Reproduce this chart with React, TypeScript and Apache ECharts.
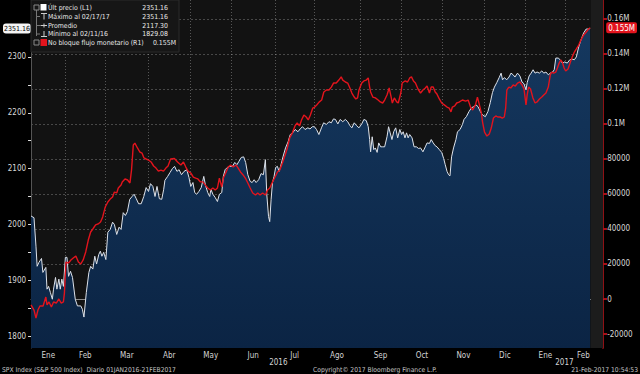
import React, { useEffect, useRef } from 'react';
import * as echarts from 'echarts';

// Trading sessions counted from 04-Jan-2016 (session 0)
const spxSession = [2.0,3.5,4.5,5.1,6.0,7.3,8.0,9.5,10.1,10.9,11.8,12.8,13.4,14.4,15.1,16.1,16.8,17.6,18.4,19.4,20.2,21.0,22.0,23.0,24.4,25.5,27.2,28.0,28.8,30.0,31.3,32.2,33.3,34.3,35.2,36.3,37.1,37.9,38.8,39.9,40.9,42.1,43.3,44.2,45.4,46.6,47.6,48.7,49.8,50.8,52.0,53.2,54.2,55.3,56.5,57.8,59.1,60.3,61.5,62.5,63.7,64.8,65.8,67.0,68.2,69.2,69.8,71.2,72.4,73.6,74.7,
75.9,77.0,78.2,79.5,80.9,82.0,82.9,84.0,84.9,85.9,87.0,88.2,89.5,90.3,91.5,92.5,93.1,94.1,95.3,96.4,97.4,98.6,99.4,100.3,101.4,102.7,104.0,105.2,106.3,107.3,108.5,109.7,110.7,111.8,113.0,114.0,115.0,116.0,117.3,118.5,119.7,120.7,121.4,122.3,122.9,123.6,124.3,125.1,125.9,126.8,127.6,128.4,129.6,130.9,132.2,133.3,134.5,135.8,137.2,138.3,139.5,140.8,142.2,143.3,144.5,145.5,146.6,147.8,
149.1,150.2,151.6,152.9,154.1,155.2,156.2,157.4,158.6,159.9,161.2,162.4,163.5,164.5,165.7,166.9,168.1,169.5,170.6,171.8,172.8,173.5,174.0,174.8,175.6,176.4,177.3,178.1,179.1,180.1,181.1,182.3,183.1,183.9,184.8,185.7,186.7,187.7,188.8,189.7,190.5,191.4,192.2,193.0,193.8,195.0,196.0,197.2,198.3,199.3,200.5,201.7,202.6,203.8,204.7,205.7,206.7,207.6,208.8,210.0,211.0,211.8,212.7,213.5,214.2,215.0,216.0,217.2,218.0,
219.3,220.5,221.3,222.5,223.8,225.1,226.3,227.4,228.4,229.6,230.7,232.1,233.4,234.6,235.7,236.7,237.9,239.1,240.1,240.8,241.8,242.9,244.1,245.1,246.2,247.1,248.4,249.6,250.7,251.7,252.7,253.3,254.3,255.3,256.3,257.3,258.3,259.5,260.7,261.7,262.8,264.0,265.0,266.2,267.0,267.8,269.0,270.0,271.1,272.3,273.6,274.9,276.1,277.2,278.2,279.4,280.5,281.9,283.2,284.4,285.2];

const spxClose = [2015,2012,1961,1925,1932,1939,1914,1923,1884,1889,1878,1866,1884,1905,1884,1902,1884,1902,1889,1941,1941,1907,1916,1905,1866,1854,1854,1848,1834,1878,1914,1925,1920,1943,1929,1946,1952,1943,1950,1937,1986,1991,2004,2000,1982,1995,1991,2021,2016,2023,2045,2050,2054,2046,2037,2037,2050,2066,2059,2073,2068,2050,2068,2046,2045,2063,2079,2086,2093,2100,2104,
2095,2098,2089,2095,2098,2084,2068,2075,2057,2054,2059,2066,2086,2071,2057,2050,2063,2054,2048,2041,2054,2057,2086,2098,2102,2104,2104,2111,2107,2113,2120,2121,2111,2089,2077,2075,2080,2075,2080,2091,2089,2116,2054,2014,2005,2045,2075,2086,2102,2104,2095,2104,2121,2137,2148,2161,2164,2170,2166,2171,2175,2170,2173,2171,2175,2175,2170,2161,
2173,2182,2179,2184,2182,2189,2188,2180,2188,2184,2188,2184,2177,2173,2182,2177,2173,2180,2188,2186,2175,2152,2130,2157,2134,2137,2129,2146,2139,2139,2139,2157,2175,2164,2152,2166,2173,2155,2170,2161,2166,2155,2164,2155,2161,2155,2139,2139,2136,2137,2130,2139,2146,2145,2152,2146,2141,2139,2134,2129,2118,2107,2095,2089,2087,2121,2137,2152,2166,
2170,2179,2188,2193,2202,2209,2211,2214,2211,2202,2196,2193,2202,2218,2236,2246,2254,2263,2271,2259,2263,2259,2264,2271,2268,2264,2271,2266,2255,2252,2241,2254,2266,2271,2277,2271,2273,2271,2275,2271,2273,2268,2271,2273,2277,2298,2298,2295,2289,2291,2289,2295,2296,2295,2300,2318,2330,2343,2350,2350,2351.16];

const flowSession = [2.0,3.5,4.5,5.5,6.5,8.1,9.5,10.1,11.1,12.3,13.4,14.8,16.1,17.3,18.4,18.9,19.7,21.0,22.2,23.4,24.7,26.0,27.2,28.4,29.7,31.0,32.2,33.3,34.7,36.0,37.2,38.3,39.6,40.9,42.1,43.3,44.2,45.4,46.2,47.6,48.2,49.6,50.9,52.1,52.9,53.8,54.6,55.9,57.1,58.2,59.2,60.3,61.5,62.8,64.1,65.3,66.5,67.8,69.1,70.3,
71.4,72.7,74.6,76.2,77.9,79.2,80.4,81.5,82.9,84.2,85.4,86.5,87.8,89.1,90.3,91.5,92.8,94.1,95.3,96.4,97.4,98.6,99.4,100.8,101.9,103.1,104.4,105.8,106.9,108.1,109.4,110.8,111.8,113.0,114.3,115.7,116.8,118.0,119.3,120.7,121.8,122.9,124.3,125.6,126.8,128.0,129.3,130.7,131.8,133.0,134.3,135.7,136.8,138.0,139.0,140.2,141.4,142.4,143.5,144.7,
145.7,146.8,147.9,149.2,150.3,151.6,152.9,154.1,155.2,156.6,157.9,159.1,159.9,161.2,162.4,163.5,164.5,165.7,166.5,167.4,168.1,169.5,170.6,171.8,172.8,173.5,174.0,175.1,176.4,177.8,178.9,180.1,181.1,182.3,183.4,184.4,185.0,186.0,187.2,188.0,189.4,190.0,191.4,192.7,193.8,194.7,195.7,196.7,198.0,199.3,200.5,201.7,202.6,203.8,204.7,205.7,206.7,207.6,208.8,210.0,
211.3,212.7,213.8,214.7,215.4,216.6,217.6,218.8,220.5,222.1,223.4,224.6,225.7,227.1,228.1,229.1,230.1,230.7,231.7,232.9,234.1,235.1,236.2,237.4,238.4,239.6,240.7,241.7,242.4,243.0,244.0,245.0,246.2,247.3,248.4,249.6,250.7,251.7,252.7,253.3,254.0,255.0,256.2,257.3,258.3,259.5,260.7,261.7,262.8,264.0,265.0,265.7,266.7,267.8,268.6,269.5,270.3,271.1,272.0,272.8,274.0,275.0,276.1,277.2,278.2,279.4,280.5,281.9,283.2,284.4,285.2];

const flowValue = [-3400,-6300,-10900,-6300,-4000,-4000,1100,-3400,-1700,-4600,-1700,-2300,0,-2300,-1700,3400,21100,20600,22300,23400,24600,21100,20000,22300,26900,33700,38300,40000,42300,42900,44000,46900,52600,55400,57100,58300,61100,60600,63400,65100,66900,68600,68000,66300,73700,88000,89100,86300,84000,83400,80600,80000,79400,78300,76000,74800,73100,73700,73100,74800,
76000,80000,80300,78300,76600,78300,75400,73100,72000,69700,69100,68600,66900,66900,65100,63400,62300,63400,62300,63400,69100,64000,69100,72600,75400,76600,75400,76600,74800,72600,70900,68600,66300,63400,60600,59400,60600,59400,60600,59400,62300,63400,66900,69700,72600,73700,77700,82300,86300,92000,94800,98900,100600,98900,102300,105100,104000,102300,105100,109100,
109700,111000,112500,113700,118300,119400,119400,121100,123400,123400,125100,126900,125100,124000,123400,120600,117700,115400,114300,114900,119400,123400,124600,125100,126300,121100,118300,115400,114900,113700,112600,112000,113700,116600,120600,115400,112000,114900,112600,112000,118300,123400,124600,124000,126300,126900,124600,123400,120000,117700,119400,120600,121700,117700,121100,121100,118300,117100,114300,112000,
110900,109700,109100,106900,109700,110300,112000,112500,113700,113100,113700,109700,108000,110900,115400,110900,106300,101100,95400,93100,94300,97700,103400,104600,104000,104000,103400,104000,109100,119400,121100,120600,122300,121700,123400,124000,122300,120000,110900,116600,121100,120000,114900,112000,112600,114300,115400,116600,117700,121100,128000,129700,129100,129700,132000,134800,136600,135400,132000,130300,131400,134800,138300,141100,142900,145100,148000,150900,152600,154300,155000];

// Axis/calendar data
const monthStartSession = [19, 39, 61, 82, 103, 125, 145, 168, 189, 210, 231, 252, 272];
const monthLabels = ['Ene', 'Feb', 'Mar', 'Abr', 'May', 'Jun', 'Jul', 'Ago', 'Sep', 'Oct', 'Nov', 'Dic', 'Ene', 'Feb'];
const yearLabels = ['2016', '2017'];
const yearStartSession = 252;
const sessionMin = 2;
const sessionMax = 291.8;
const lastMonthEndSession = 291;

const priceMin = 1778.6;
const priceMax = 2402;
const flowMin = -28000;
const flowMax = 170857;
const priceTicks = [1800, 1850, 1900, 1950, 2000, 2050, 2100, 2150, 2200, 2250, 2300];
const priceLabels = [1800, 1900, 2000, 2100, 2200, 2300];
const flowTicks = [-20000, 0, 20000, 40000, 60000, 80000, 100000, 120000, 140000, 160000];
const lastPrice = 2351.16;
const lastFlow = 155000;

const legendLabels = ['Últ precio (L1)', 'Máximo al 02/17/17', 'Promedio', 'Mínimo al 02/11/16', 'No bloque flujo monetario (R1)'];
const legendValues = ['2351.16', '2351.16', '2117.30', '1829.08', '0.155M'];

const footerLeft = 'SPX Index (S&P 500 Index)  Diario 01JAN2016-21FEB2017';
const footerMid = 'Copyright© 2017 Bloomberg Finance L.P.';
const footerRight = '21-Feb-2017 10:54:53';

const FONT = "'Liberation Sans Narrow','DejaVu Sans Condensed','Liberation Sans',Roboto,sans-serif";
const RED = '#e3141d';

export default function App() {
  const ref = useRef<HTMLDivElement>(null);

  useEffect(() => {
    document.body.style.margin = '0';
    document.body.style.background = '#000';
    if (!ref.current) return;
    const chart = echarts.init(ref.current, undefined, { renderer: 'svg' });

    const spxData = spxSession.map((s, i) => [s, spxClose[i]]).filter((d) => d[1] !== undefined);
    const flowData = flowSession.map((s, i) => [s, flowValue[i]]).filter((d) => d[1] !== undefined);

    const bounds = monthStartSession.map((s) => s + 0.5);
    const edges = [sessionMin, ...bounds, lastMonthEndSession];
    const mids = monthLabels.map((_, i) => (edges[i] + edges[i + 1]) / 2);
    const yearBound = yearStartSession + 0.5;
    const yearMids = [(sessionMin + yearBound) / 2, (yearBound + sessionMax) / 2];

    const findIdx = (arr: number[], v: number) => arr.findIndex((m) => Math.abs(m - v) < 0.01);

    const legendRowsY = [7.5, 16.5, 25.5, 34, 42.5];
    const legendEls: any[] = [
      { type: 'rect', shape: { x: 31, y: 0, width: 148, height: 52 }, style: { fill: '#161616', stroke: '#2b2b2b', lineWidth: 1 }, z: 100 },
      { type: 'line', shape: { x1: 36.5, y1: 10, x2: 36.5, y2: 36 }, style: { stroke: '#777', lineWidth: 1 }, z: 101 },
      { type: 'line', shape: { x1: 36.5, y1: 16.5, x2: 40, y2: 16.5 }, style: { stroke: '#777', lineWidth: 1 }, z: 101 },
      { type: 'line', shape: { x1: 36.5, y1: 25.5, x2: 40, y2: 25.5 }, style: { stroke: '#777', lineWidth: 1 }, z: 101 },
      { type: 'line', shape: { x1: 36.5, y1: 34, x2: 40, y2: 34 }, style: { stroke: '#777', lineWidth: 1 }, z: 101 },
      { type: 'rect', shape: { x: 34, y: 5, width: 5, height: 5 }, style: { fill: 'none', stroke: '#888', lineWidth: 1 }, z: 101 },
      { type: 'rect', shape: { x: 40.5, y: 4, width: 6, height: 6.5 }, style: { fill: '#ffffff' }, z: 101 },
      { type: 'line', shape: { x1: 41, y1: 13.5, x2: 47, y2: 13.5 }, style: { stroke: '#ccc', lineWidth: 1 }, z: 101 },
      { type: 'line', shape: { x1: 44, y1: 13.5, x2: 44, y2: 19.5 }, style: { stroke: '#ccc', lineWidth: 1 }, z: 101 },
      { type: 'line', shape: { x1: 40.5, y1: 25.5, x2: 47, y2: 25.5 }, style: { stroke: '#ccc', lineWidth: 1 }, z: 101 },
      { type: 'line', shape: { x1: 44, y1: 23.5, x2: 44, y2: 27.5 }, style: { stroke: '#ccc', lineWidth: 1 }, z: 101 },
      { type: 'line', shape: { x1: 44, y1: 31, x2: 44, y2: 36.5 }, style: { stroke: '#ccc', lineWidth: 1 }, z: 101 },
      { type: 'line', shape: { x1: 41, y1: 36.5, x2: 47, y2: 36.5 }, style: { stroke: '#ccc', lineWidth: 1 }, z: 101 },
      { type: 'rect', shape: { x: 34, y: 40, width: 5, height: 5 }, style: { fill: 'none', stroke: '#888', lineWidth: 1 }, z: 101 },
      { type: 'rect', shape: { x: 40.5, y: 39, width: 6.5, height: 7 }, style: { fill: RED }, z: 101 },
    ];
    legendLabels.forEach((t, i) => {
      legendEls.push({
        type: 'text', x: 48, y: legendRowsY[i], z: 102,
        style: { text: t, fill: '#e8e8e8', fontSize: 6.9, fontFamily: FONT, verticalAlign: 'middle', align: 'left' },
      });
      legendEls.push({
        type: 'text', x: i === 4 ? 176 : 168, y: legendRowsY[i], z: 102,
        style: { text: legendValues[i], fill: '#e8e8e8', fontSize: 6.9, fontFamily: FONT, verticalAlign: 'middle', align: 'right' },
      });
    });
    const footerStyle = { fill: '#c8c8c8', fontSize: 6.7, fontFamily: FONT, verticalAlign: 'middle' };
    legendEls.push({ type: 'text', x: 2, y: 369.5, style: { ...footerStyle, text: footerLeft, align: 'left' } });
    legendEls.push({ type: 'text', x: 313, y: 369.5, style: { ...footerStyle, text: footerMid, align: 'left' } });
    legendEls.push({ type: 'text', x: 638, y: 369.5, style: { ...footerStyle, text: footerRight, align: 'right' } });

    const hiddenAxisParts = { axisLine: { show: false }, axisTick: { show: false }, splitLine: { show: false } };

    const option: any = {
      animation: false,
      backgroundColor: '#000',
      grid: { left: 29, right: 28, top: 0, bottom: 26, show: true, backgroundColor: '#121212', borderWidth: 0 },
      xAxis: [
        {
          type: 'value', min: sessionMin, max: sessionMax, position: 'bottom',
          axisLine: { show: true, lineStyle: { color: '#8a8a8a', width: 1 } },
          axisTick: { show: true, customValues: bounds, length: 3, lineStyle: { color: '#bbb' } },
          axisLabel: {
            customValues: mids, color: '#d4d4d4', fontSize: 8, fontFamily: FONT, margin: 3,
            showMinLabel: true, showMaxLabel: true,
            formatter: (v: number) => monthLabels[findIdx(mids, v)] ?? '',
          },
          splitLine: { show: true, lineStyle: { color: 'rgba(170,170,170,0.45)', type: [1, 2], width: 1 } },
        },
        {
          type: 'value', min: sessionMin, max: sessionMax, position: 'bottom', offset: 10,
          axisLine: { show: false },
          axisTick: { show: true, customValues: [yearBound], length: 6, lineStyle: { color: '#bbb' } },
          axisLabel: {
            customValues: yearMids, color: '#d4d4d4', fontSize: 8, fontFamily: FONT, margin: 0,
            showMinLabel: true, showMaxLabel: true,
            formatter: (v: number) => yearLabels[findIdx(yearMids, v)] ?? '',
          },
          splitLine: { show: false },
        },
      ],
      yAxis: [
        {
          type: 'value', min: priceMin, max: priceMax, position: 'left',
          axisLine: { show: true, lineStyle: { color: '#555' } },
          axisTick: { show: true, customValues: priceTicks, length: 3, lineStyle: { color: '#ddd' } },
          axisLabel: {
            customValues: priceLabels, color: '#d8d8d8', fontSize: 8, fontFamily: FONT, margin: 5,
            showMinLabel: true, showMaxLabel: true,
            formatter: (v: number) => String(v),
          },
          splitLine: { show: false },
        },
        {
          type: 'value', min: flowMin, max: flowMax, position: 'right',
          axisLine: { show: true, lineStyle: { color: RED, width: 1.5 } },
          axisTick: { show: true, customValues: flowTicks, length: 4, lineStyle: { color: RED, width: 1.5 } },
          axisLabel: {
            customValues: flowTicks, color: '#d8d8d8', fontSize: 8, fontFamily: FONT, margin: 4,
            showMinLabel: true, showMaxLabel: true,
            formatter: (v: number) => (v >= 100000 ? v / 1e6 + 'M' : String(v)),
          },
          splitLine: { show: true, lineStyle: { color: 'rgba(150,150,150,0.42)', type: [2, 2], width: 1 } },
        },
        {
          // last price badge
          type: 'value', min: priceMin, max: priceMax, position: 'left', ...hiddenAxisParts,
          axisLabel: {
            customValues: [lastPrice], showMinLabel: true, showMaxLabel: true, margin: 0,
            formatter: (v: number) => '{badge|' + v.toFixed(2) + '}',
            rich: { badge: { backgroundColor: '#f4f4f4', color: '#000', borderRadius: 3, padding: [2, 1, 1, 1], fontSize: 7, fontFamily: FONT } },
          },
        },
        {
          // last flow badge
          type: 'value', min: flowMin, max: flowMax, position: 'right', ...hiddenAxisParts,
          axisLabel: {
            customValues: [lastFlow], showMinLabel: true, showMaxLabel: true, margin: 3,
            formatter: (v: number) => '{badge|' + v / 1e6 + 'M}',
            rich: { badge: { backgroundColor: RED, color: '#fff', borderRadius: 2, padding: [2, 2, 1, 2], fontSize: 8, fontFamily: FONT } },
          },
        },
      ],
      series: [
        {
          type: 'line', name: legendLabels[0], xAxisIndex: 0, yAxisIndex: 0, data: spxData,
          symbol: 'none', showSymbol: false,
          lineStyle: { color: '#dde2ea', width: 1 },
          areaStyle: {
            origin: 'start', opacity: 1,
            color: new echarts.graphic.LinearGradient(0, 0, 0, 1, [
              { offset: 0, color: '#15385f' },
              { offset: 1, color: '#0b2444' },
            ]),
          },
          markArea: { silent: true, itemStyle: { color: '#1c1c1c' }, data: [[{ xAxis: 285.6 }, { xAxis: sessionMax }]] },
          z: 2,
        },
        {
          type: 'line', name: legendLabels[4], xAxisIndex: 0, yAxisIndex: 1, data: flowData,
          symbol: 'none', showSymbol: false,
          lineStyle: { color: RED, width: 1.4 },
          z: 3,
        },
      ],
      graphic: { elements: legendEls },
    };

    chart.setOption(option);
    return () => chart.dispose();
  }, []);

  return <div ref={ref} style={{ position: 'absolute', left: 0, top: 0, width: 640, height: 374, background: '#000' }} />;
}
